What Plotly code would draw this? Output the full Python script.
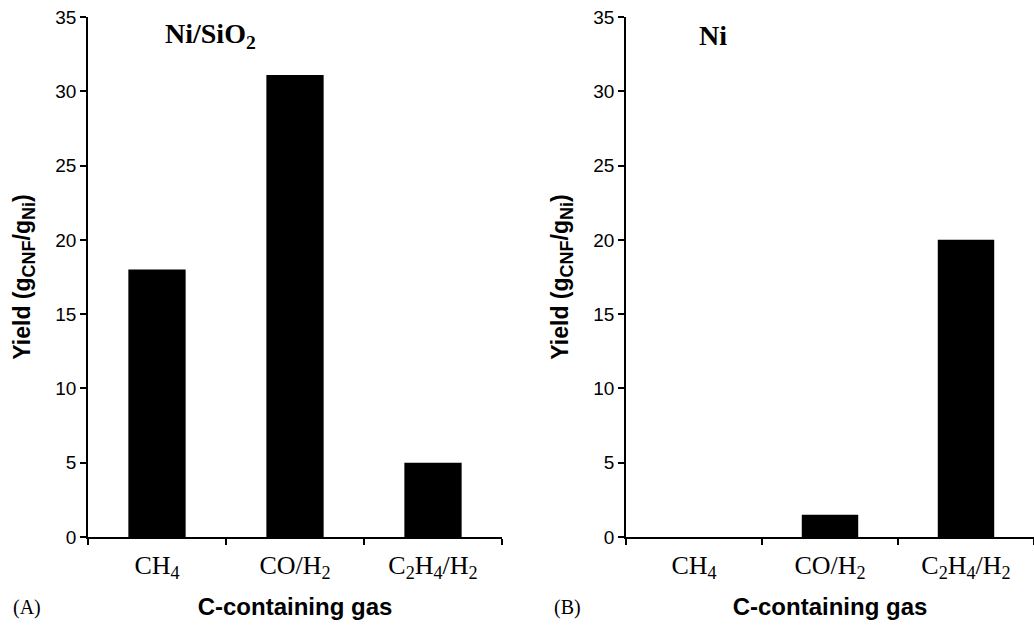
import plotly.graph_objects as go

categories = ["CH<sub>4</sub>", "CO/H<sub>2</sub>", "C<sub>2</sub>H<sub>4</sub>/H<sub>2</sub>"]
yield_ni_sio2 = [18, 31.1, 5]
yield_ni = [0, 1.5, 20]
panel_titles = ["Ni/SiO<sub>2</sub>", "Ni"]
panel_labels = ["(A)", "(B)"]

W, H = 1034, 627
def px_x(x):
    return x / W
def px_y(y):
    return 1 - y / H

fig = go.Figure()
fig.add_trace(go.Bar(x=categories, y=yield_ni_sio2, xaxis="x", yaxis="y",
                     marker=dict(color="black", line=dict(width=0)),
                     showlegend=False))
fig.add_trace(go.Bar(x=categories, y=yield_ni, xaxis="x2", yaxis="y2",
                     marker=dict(color="black", line=dict(width=0)),
                     showlegend=False))

ydom = [px_y(537), px_y(17)]
xdomA = [px_x(88), px_x(502)]
xdomB = [px_x(626), 1.0]

ytitle = ("<b>Yield (g<sub><span style='font-size:18px'>CNF</span></sub>/"
          "g<sub><span style='font-size:18px'>Ni</span></sub>)</b>")

xcommon = dict(type="category", tickson="boundaries", ticks="outside", ticklen=6,
               tickwidth=1.5, tickcolor="black", showline=True, linecolor="black",
               linewidth=1.5, showgrid=False, zeroline=False, automargin=False,
               ticklabelstandoff=4,
               tickfont=dict(family="Liberation Serif", size=26, color="black"),
               title=dict(text="<b>C-containing gas</b>",
                          font=dict(family="Liberation Sans", size=24, color="black"),
                          standoff=16))
ycommon = dict(range=[0, 35], dtick=5, ticks="outside", ticklen=6, tickwidth=1.5,
               tickcolor="black", showline=True, linecolor="black", linewidth=1.5,
               showgrid=False, zeroline=False, automargin=False,
               tickfont=dict(family="Liberation Sans", size=19, color="black"),
               title=dict(text=ytitle,
                          font=dict(family="Liberation Sans", size=23, color="black"),
                          standoff=18))

fig.update_layout(
    width=W, height=H, margin=dict(l=0, r=0, t=0, b=0),
    paper_bgcolor="white", plot_bgcolor="white", bargap=0.585,
    xaxis=dict(domain=xdomA, anchor="y", **xcommon),
    yaxis=dict(domain=ydom, anchor="x", **ycommon),
    xaxis2=dict(domain=xdomB, anchor="y2", **xcommon),
    yaxis2=dict(domain=ydom, anchor="x2", **ycommon),
)

annots = [
    (px_x(210), px_y(36), panel_titles[0]),
    (px_x(713), px_y(36), panel_titles[1]),
]
for x, y, t in annots:
    fig.add_annotation(x=x, y=y, xref="paper", yref="paper", text="<b>" + t + "</b>",
                       showarrow=False, xanchor="center", yanchor="middle",
                       font=dict(family="Liberation Serif", size=28, color="black"))
for x, t in [(px_x(27), panel_labels[0]), (px_x(567), panel_labels[1])]:
    fig.add_annotation(x=x, y=px_y(607), xref="paper", yref="paper", text=t,
                       showarrow=False, xanchor="center", yanchor="middle",
                       font=dict(family="Liberation Serif", size=20, color="black"))

fig.write_html("out.html", config={"displayModeBar": False},
               post_script="document.body.style.margin='0';document.body.style.overflow='hidden';")
